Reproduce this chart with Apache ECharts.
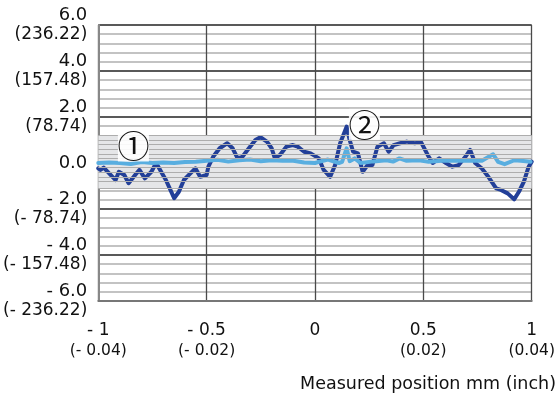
<!DOCTYPE html>
<html>
<head>
<meta charset="utf-8">
<script src="https://cdn.jsdelivr.net/npm/echarts@6/dist/echarts.min.js"></script>
<style>html,body{margin:0;padding:0;background:#fff;}#c{width:558px;height:403px;}</style>
</head>
<body>
<div id="c"></div>
<script>
// Measured deviation (dark) – [position mm, value]
const darkSeries = [
  [-1.0,-0.23],[-0.99,-0.3],[-0.975,-0.2],[-0.92,-0.74],[-0.905,-0.38],[-0.88,-0.52],[-0.86,-0.88],
  [-0.83,-0.52],[-0.81,-0.3],[-0.785,-0.67],[-0.755,-0.38],[-0.733,0.0],[-0.725,0.06],[-0.71,-0.38],
  [-0.688,-0.74],[-0.65,-1.53],[-0.628,-1.25],[-0.605,-0.74],[-0.575,-0.45],[-0.552,-0.23],[-0.53,-0.6],
  [-0.5,-0.52],[-0.492,-0.16],[-0.47,0.27],[-0.44,0.64],[-0.405,0.86],[-0.38,0.64],[-0.357,0.2],
  [-0.335,0.27],[-0.305,0.64],[-0.275,1.0],[-0.252,1.12],[-0.222,0.93],[-0.2,0.64],[-0.185,0.2],
  [-0.162,0.35],[-0.132,0.71],[-0.102,0.78],[-0.08,0.71],[-0.05,0.49],[-0.02,0.42],[0.018,0.2],
  [0.04,-0.3],[0.07,-0.6],[0.093,-0.09],[0.116,0.86],[0.146,1.58],[0.16,1.0],[0.176,0.49],[0.198,0.42],
  [0.22,-0.38],[0.243,-0.09],[0.265,-0.09],[0.288,0.71],[0.318,0.86],[0.34,0.49],[0.363,0.78],
  [0.393,0.86],[0.423,0.93],[0.46,0.86],[0.49,0.9],[0.52,0.35],[0.543,0.0],[0.573,0.2],[0.604,0.0],
  [0.634,-0.16],[0.663,-0.09],[0.694,0.27],[0.716,0.57],[0.739,0.0],[0.769,-0.23],[0.8,-0.6],
  [0.836,-1.1],[0.858,-1.17],[0.889,-1.32],[0.919,-1.58],[0.941,-1.25],[0.964,-0.81],[0.986,-0.16],[1.0,0.06]
];
// Measured deviation (light)
const lightSeries = [
  [-1.0,0.0],[-0.95,0.02],[-0.9,0.0],[-0.85,-0.04],[-0.8,0.04],[-0.75,0.0],[-0.7,0.02],[-0.65,0.0],
  [-0.6,0.04],[-0.55,0.05],[-0.5,0.1],[-0.45,0.14],[-0.4,0.06],[-0.35,0.12],[-0.3,0.15],[-0.25,0.08],
  [-0.2,0.12],[-0.15,0.1],[-0.1,0.1],[-0.05,0.02],[0.0,0.0],[0.018,0.05],[0.06,0.15],[0.11,0.0],
  [0.125,0.05],[0.146,0.64],[0.16,0.08],[0.183,0.2],[0.21,0.0],[0.27,0.07],[0.33,0.12],[0.36,0.06],
  [0.39,0.2],[0.42,0.1],[0.48,0.12],[0.525,0.05],[0.585,0.1],[0.65,0.1],[0.71,0.1],[0.77,0.1],
  [0.822,0.38],[0.845,0.05],[0.875,-0.05],[0.92,0.12],[0.95,0.1],[0.995,0.05]
];
const xTickValues = [-1, -0.5, 0, 0.5, 1];
const xTickMain = ['- 1', '- 0.5', '0', '0.5', '1'];
const xTickSub = ['(- 0.04)', '(- 0.02)', '', '(0.02)', '(0.04)'];
const yTickValues = [-6, -4, -2, 0, 2, 4, 6];
const yTickMain = ['- 6.0', '- 4.0', '- 2.0', '0.0', '2.0', '4.0', '6.0'];
const yTickSub = ['(- 236.22)', '(- 157.48)', '(- 78.74)', '', '(78.74)', '(157.48)', '(236.22)'];
const annotations = [
  { name: '①', x: -0.838, y: 0.74 },
  { name: '②', x: 0.228, y: 1.68 }
];
const tolerBand = [-1.1, 1.2];
const bandLines = [1.0, 0.8, 0.6, 0.4, 0.2, -0.2, -0.4, -0.6, -0.8];
const xTitle = 'Measured position mm (inch)';

const FONT = 'DejaVu Sans';
const chart = echarts.init(document.getElementById('c'), null, { renderer: 'canvas' });

function xLabel(v) {
  const i = xTickValues.findIndex(t => Math.abs(t - v) < 1e-9);
  if (i < 0) return '';
  return xTickSub[i] ? '{m|' + xTickMain[i] + '}\n{s|' + xTickSub[i] + '}' : '{m|' + xTickMain[i] + '}';
}
function yLabel(v) {
  const i = yTickValues.findIndex(t => Math.abs(t - v) < 1e-9);
  if (i < 0) return '';
  return yTickSub[i] ? '{m|' + yTickMain[i] + '}\n{s|' + yTickSub[i] + '}' : '{m|' + yTickMain[i] + '}';
}

chart.setOption({
  animation: false,
  backgroundColor: '#ffffff',
  grid: { left: 94, right: 20, top: 25, bottom: 102, containLabel: false },
  xAxis: {
    type: 'value', min: -1, max: 1, interval: 0.5,
    axisLine: { show: true, onZero: false, lineStyle: { color: '#777', width: 2 } },
    axisTick: { show: false },
    splitLine: { show: true, lineStyle: { color: '#4a4a4a', width: 1.3 } },
    axisLabel: {
      margin: 20, formatter: xLabel, color: '#111', fontFamily: FONT,
      rich: {
        m: { fontSize: 17, lineHeight: 20, fontFamily: FONT, color: '#111' },
        s: { fontSize: 15.5, lineHeight: 20, fontFamily: FONT, color: '#111' }
      }
    }
  },
  yAxis: {
    type: 'value', min: -6, max: 6, interval: 2,
    axisLine: { show: true, onZero: false, lineStyle: { color: '#888', width: 2 } },
    axisTick: { show: false },
    minorTick: { show: false, splitNumber: 5 },
    minorSplitLine: { show: true, lineStyle: { color: '#b0b0b0', width: 1.5 } },
    splitLine: { show: true, lineStyle: { color: '#222', width: 1.5 } },
    axisLabel: {
      margin: 11, formatter: yLabel, color: '#111', fontFamily: FONT, align: 'right',
      rich: {
        m: { fontSize: 18, lineHeight: 19, fontFamily: FONT, color: '#111', align: 'right' },
        s: { fontSize: 17, lineHeight: 19, fontFamily: FONT, color: '#111', align: 'right' }
      }
    }
  },
  graphic: [{
    type: 'text', right: 2, top: 375,
    style: { text: xTitle, font: '17.5px "DejaVu Sans"', fill: '#111' }
  }],
  series: [
    {
      type: 'line', data: darkSeries, showSymbol: false, smooth: false,
      lineStyle: { color: '#223f98', width: 4, join: 'round', cap: 'round' },
      itemStyle: { color: '#223f98' },
      z: 3,
      markArea: {
        silent: true,
        itemStyle: { color: '#e5e6e8' },
        data: [[{ yAxis: tolerBand[0] }, { yAxis: tolerBand[1] }]]
      },
      markLine: {
        silent: true, symbol: 'none', label: { show: false },
        lineStyle: { color: '#adadad', width: 1.2, type: 'solid' },
        data: bandLines.map(v => ({ yAxis: v })).concat([{ yAxis: tolerBand[0] }, { yAxis: tolerBand[1] }])
      },
      markPoint: {
        silent: true,
        symbol: 'rect', symbolSize: [31, 31],
        itemStyle: { color: 'rgba(255,255,255,0.9)' },
        label: {
          show: true, formatter: p => p.name, color: '#111', fontWeight: 'normal',
          fontFamily: 'Noto Sans CJK JP', fontSize: 32
        },
        data: annotations.map(a => ({ name: a.name, coord: [a.x, a.y] }))
      }
    },
    {
      type: 'line', data: lightSeries, showSymbol: false, smooth: false,
      lineStyle: { color: '#58aee0', width: 4, join: 'round', cap: 'round' },
      itemStyle: { color: '#58aee0' },
      z: 4
    }
  ]
});
</script>
</body>
</html>
